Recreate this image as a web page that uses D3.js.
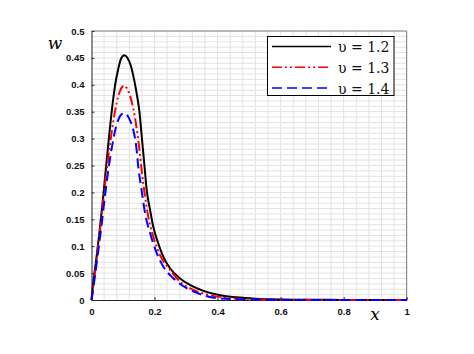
<!DOCTYPE html>
<html><head><meta charset="utf-8">
<script src="https://cdn.jsdelivr.net/npm/d3@7"></script>
<style>body{margin:0;background:#fff}svg{display:block}</style>
</head><body>
<script>
const xs1 = [0,0.005,0.015,0.025,0.035,0.045,0.055,0.065,0.075,0.085,0.094,0.104,0.114,0.125,0.135,0.143,0.152,0.16,0.168,0.175,0.186,0.196,0.212,0.228,0.249,0.281,0.312,0.355,0.408,0.461,0.52,0.6,0.7,0.8,0.9,1];
const w1  = [0,0.03,0.075,0.125,0.18,0.24,0.3,0.355,0.4,0.43,0.449,0.455,0.45,0.435,0.41,0.385,0.35,0.3,0.25,0.205,0.167,0.136,0.105,0.08,0.059,0.04,0.028,0.017,0.009,0.005,0.0025,0.001,0.0004,0.0002,0.0001,0];
const xs2 = [0,0.01,0.02,0.03,0.04,0.05,0.06,0.07,0.08,0.09,0.103,0.113,0.123,0.133,0.143,0.152,0.159,0.17,0.18,0.196,0.217,0.249,0.281,0.323,0.376,0.429,0.5,0.6,0.8,1];
const w2  = [0,0.045,0.095,0.145,0.2,0.25,0.295,0.335,0.367,0.388,0.398,0.393,0.378,0.355,0.32,0.28,0.242,0.192,0.155,0.118,0.084,0.056,0.034,0.019,0.009,0.004,0.0015,0.0004,0.0001,0];
const xs3 = [0,0.01,0.02,0.03,0.04,0.053,0.065,0.075,0.085,0.095,0.105,0.115,0.125,0.135,0.142,0.149,0.159,0.17,0.186,0.207,0.228,0.26,0.302,0.355,0.408,0.5,0.6,0.8,1];
const w3  = [0,0.04,0.085,0.13,0.18,0.24,0.285,0.315,0.335,0.345,0.347,0.342,0.33,0.31,0.285,0.245,0.204,0.161,0.124,0.087,0.062,0.04,0.022,0.009,0.003,0.001,0.0002,0,0];
const xTicks = [0,0.2,0.4,0.6,0.8,1];
const yTicks = [0,0.05,0.1,0.15,0.2,0.25,0.3,0.35,0.4,0.45,0.5];
const xTickLabels = ["0","0.2","0.4","0.6","0.8","1"];
const yTickLabels = ["0","0.05","0.1","0.15","0.2","0.25","0.3","0.35","0.4","0.45","0.5"];
const legendLabels = ["υ = 1.2","υ = 1.3","υ = 1.4"];

const W=474,H=354;
const L=91.5,R=406.7,T=31,B=300;
const svg=d3.select("body").append("svg").attr("width",W).attr("height",H);
const x=d3.scaleLinear().domain([0,1]).range([L,R]);
const y=d3.scaleLinear().domain([0,0.5]).range([B,T]);

// grid
const g=svg.append("g");
g.selectAll(".vx").data(d3.range(1,25).map(i=>i*0.04)).join("line")
 .attr("x1",d=>x(d)).attr("x2",d=>x(d)).attr("y1",T).attr("y2",B)
 .attr("stroke","#e3e3e3").attr("stroke-width",1);
g.selectAll(".hy").data(d3.range(1,50).map(i=>i*0.01)).join("line")
 .attr("x1",L).attr("x2",R).attr("y1",d=>y(d)).attr("y2",d=>y(d))
 .attr("stroke","#e3e3e3").attr("stroke-width",1);

// frame
svg.append("line").attr("x1",L).attr("x2",R).attr("y1",T).attr("y2",T).attr("stroke","#777");
svg.append("line").attr("x1",R).attr("x2",R).attr("y1",T).attr("y2",B).attr("stroke","#777");

// axes
const xAxis=d3.axisBottom(x).tickValues(xTicks).tickFormat((d,i)=>xTickLabels[i]).tickSize(-3).tickSizeOuter(0).tickPadding(8);
const yAxis=d3.axisLeft(y).tickValues(yTicks).tickFormat((d,i)=>yTickLabels[i]).tickSize(-3).tickSizeOuter(0).tickPadding(7);
const gx=svg.append("g").attr("transform",`translate(0,${B})`).call(xAxis);
const gy=svg.append("g").attr("transform",`translate(${L},0)`).call(yAxis);
[gx,gy].forEach(a=>{
  a.selectAll("path").attr("stroke","#222");
  a.selectAll("line").attr("stroke","#333");
  a.selectAll("text").attr("font-family","Arial, 'Liberation Sans', sans-serif").attr("font-weight","bold").attr("font-size","9.5px").attr("fill","#111");
});

// curves
const line=d3.line().x(d=>x(d[0])).y(d=>y(d[1])).curve(d3.curveMonotoneX);
const series=[
 {xs:xs1,ws:w1,color:"#000",dash:null},
 {xs:xs2,ws:w2,color:"#ff0000",dash:"10,3,2,3,2,3"},
 {xs:xs3,ws:w3,color:"#0000ff",dash:"10,5"}
];
series.forEach(s=>{
  svg.append("path").datum(s.xs.map((v,i)=>[v,s.ws[i]]))
   .attr("d",line).attr("fill","none").attr("stroke",s.color).attr("stroke-width",2)
   .attr("stroke-dasharray",s.dash);
});

// axis labels
svg.append("text").attr("x",55).attr("y",49).attr("text-anchor","middle")
 .attr("font-family","'DejaVu Serif', serif").attr("font-style","italic").attr("font-size","17px").text("w");
svg.append("text").attr("x",375).attr("y",320).attr("text-anchor","middle")
 .attr("font-family","'DejaVu Serif', serif").attr("font-style","italic").attr("font-size","17px").text("x");

// legend
const lg=svg.append("g");
lg.append("rect").attr("x",267.5).attr("y",36.5).attr("width",126.5).attr("height",59).attr("fill","#fff").attr("stroke","#000").attr("stroke-width",1);
series.forEach((s,i)=>{
  const yy=46.5+i*20.8;
  lg.append("line").attr("x1",272).attr("x2",331).attr("y1",yy).attr("y2",yy)
   .attr("stroke",s.color).attr("stroke-width",1.5).attr("stroke-dasharray",s.dash);
  lg.append("text").attr("x",338).attr("y",yy+5.5)
   .attr("font-family","'DejaVu Serif', 'Liberation Serif', serif").attr("font-size","14px").attr("fill","#111").text(legendLabels[i]);
});
</script>
</body></html>
